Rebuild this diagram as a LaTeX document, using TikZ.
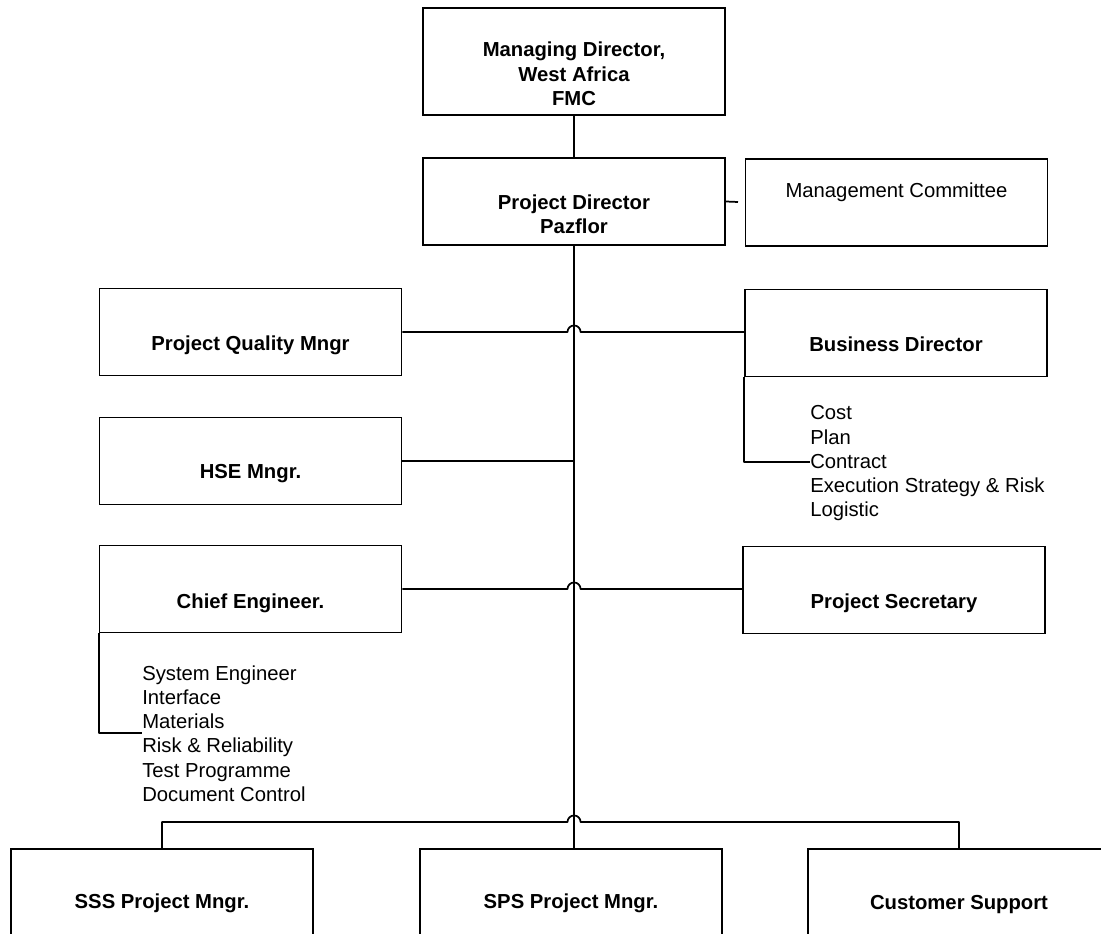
\documentclass[tikz,border=0pt]{standalone}
\usepackage{fontspec}
\setmainfont{Liberation Sans}
\usetikzlibrary{calc}
\begin{document}
\begin{tikzpicture}[x=0.75pt,y=-0.75pt,
  box/.style={draw, line width=1.3pt, rectangle, minimum width=226.5pt,
    minimum height=65.25pt, inner sep=0pt},
  title/.style={font=\bfseries\fontsize{15.2}{18.2}\selectfont, align=center, inner sep=0pt},
  plaintitle/.style={font=\fontsize{15.2}{18.2}\selectfont, align=center, inner sep=0pt},
  item/.style={font=\fontsize{15.2}{18.2}\selectfont, anchor=base west, inner sep=0pt},
  wire/.style={line width=1.3pt, line join=round}]
\useasboundingbox (0,0) rectangle (1101,934);
\fill[white] (0,0) rectangle (1101,934);

% boxes
\node[box, minimum height=80.25pt] (md) at (574,61.5) {};
\node[box] (pd)  at (574,201.5) {};
\node[box] (mc)  at (896.5,202.5) {};
\node[box] (pqm) at (250.5,332) {};
\node[box] (bd)  at (896,333) {};
\node[box] (hse) at (250.5,461) {};
\node[box] (ce)  at (250.5,589) {};
\node[box] (ps)  at (894,590) {};
\node[box] (sss) at (162,892.5) {};
\node[box] (sps) at (571,892.5) {};
\node[box] (cs)  at (959,892.5) {};

% box texts
\node[title] (mdt) at (574,74) {Managing Director,\\West Africa\\FMC};
\node[title] (pdt) at (574,214) {Project Director\\Pazflor};
\node[plaintitle, anchor=base] (mct) at (896.5,198) {Management Committee};
\node[title, anchor=base] (pqmt) at (250.5,351) {Project Quality Mngr};
\node[title, anchor=base] (bdt) at (896,352) {Business Director};
\node[title, anchor=base] (hset) at (250.5,479) {HSE Mngr.};
\node[title, anchor=base] (cet) at (250.5,609) {Chief Engineer.};
\node[title, anchor=base] (pst) at (894,609) {Project Secretary};
\node[title, anchor=base] (ssst) at (162,908) {SSS Project Mngr.};
\node[title, anchor=base] (spst) at (571,908) {SPS Project Mngr.};
\node[title, anchor=base] (cst) at (959,909) {Customer Support};

% business director duties
\node[item] (bd1) at (810,420) {Cost};
\node[item] (bd2) at (810,445) {Plan};
\node[item] (bd3) at (810,469) {Contract};
\node[item] (bd4) at (810,493) {Execution Strategy \& Risk};
\node[item] (bd5) at (810,517) {Logistic};

% chief engineer duties
\node[item] (ce1) at (142,680) {System Engineer};
\node[item] (ce2) at (142,704) {Interface};
\node[item] (ce3) at (142,728) {Materials};
\node[item] (ce4) at (142,752) {Risk \& Reliability};
\node[item] (ce5) at (142,777) {Test Programme};
\node[item] (ce6) at (142,801) {Document Control};

% connectors
\coordinate (mcstub) at (738,202);
\coordinate (bus) at (574,822);
\draw[wire] (md.south) -- (pd.north);
\draw[wire] (pd.east) -- (mcstub);
\draw[wire] (pd.south) -- (pd.south |- sps.north);
\draw[wire] (pqm.east) -- ($(pd.south |- pqm.east)+(-6.5,0)$)
  arc[start angle=180, end angle=0, radius=4.9pt] -- (bd.west |- pqm.east);
\draw[wire] (hse.east) -- (pd.south |- hse.east);
\draw[wire] (ce.east) -- ($(pd.south |- ce.east)+(-6.5,0)$)
  arc[start angle=180, end angle=0, radius=4.9pt] -- (ps.west |- ce.east);
\draw[wire] (sss.north) -- (sss.north |- bus) -- ($(bus)+(-6.5,0)$)
  arc[start angle=180, end angle=0, radius=4.9pt] -- (cs.north |- bus) -- (cs.north);
\draw[wire] (bd.south west) |- (bd3.west);
\draw[wire] (ce.south west) |- ($(ce3.base west)+(0,5)$);
\end{tikzpicture}
\end{document}
